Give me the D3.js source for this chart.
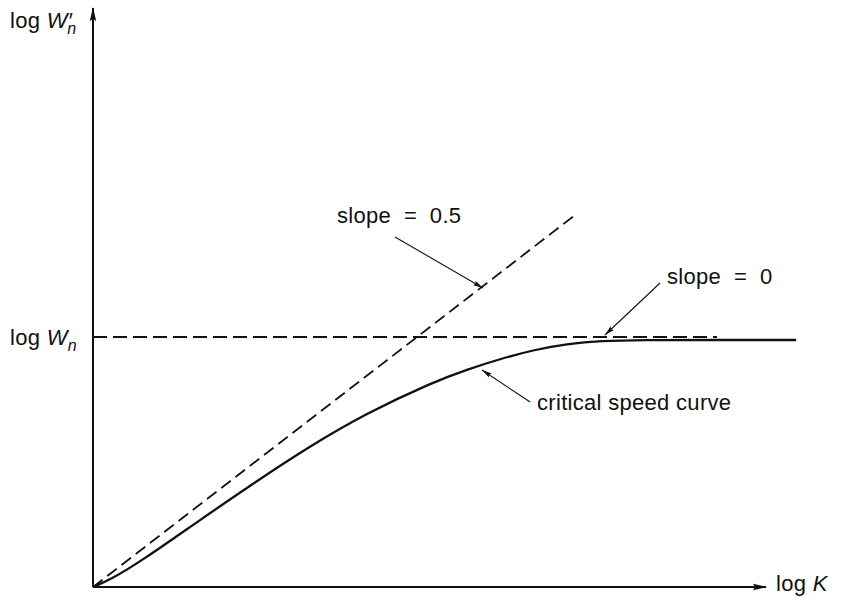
<!DOCTYPE html>
<html>
<head>
<meta charset="utf-8">
<script src="https://cdn.jsdelivr.net/npm/d3@7"></script>
<style>
  html, body { margin: 0; padding: 0; background: #fff; }
  svg { display: block; }
  text { font-family: "Liberation Sans", Arial, Helvetica, sans-serif; fill: #111; white-space: pre; letter-spacing: 0.3px; }
</style>
</head>
<body>
<svg id="chart" width="859" height="597"></svg>
<script>
// ---- data (log K, log W'n in units where log Wn = 1) ----
const curveLogK  = [0, 0.105, 0.309, 0.660, 1.000, 1.340, 1.691, 2.099, 2.309, 2.512, 2.716, 2.926, 3.130, 3.400, 3.800, 4.340];
const curveLogW  = [0, 0.028, 0.108, 0.268, 0.419, 0.564, 0.696, 0.820, 0.870, 0.912, 0.948, 0.972, 0.985, 0.988, 0.988, 0.988];
const slopeHalfK = [0, 2.963];
const slopeHalf  = 0.5;
const logWn      = 1.0;
const flatK      = [0, 3.852];
const axisMax    = [4.154, 2.316];   // [log K end, log W' end]
const annotationTexts = ["slope  =  0.5", "slope  =  0", "critical speed curve"];
const annotationFrom  = [[1.864, 1.400], [3.500, 1.216], [2.698, 0.740]];
const annotationTo    = [[2.407, 1.196], [3.160, 1.008], [2.401, 0.868]];
const annotationText  = [[1.506, 1.456], [3.543, 1.212], [2.741, 0.708]];

// ---- layout ----
const svg = d3.select("#chart");
const x = d3.scaleLinear().domain([0, axisMax[0]]).range([93, 766]);
const y = d3.scaleLinear().domain([0, axisMax[1]]).range([587, 8]);

const defs = svg.append("defs");
defs.append("marker").attr("id", "bigArrow")
  .attr("viewBox", "0 0 14 8").attr("refX", 13).attr("refY", 4)
  .attr("markerWidth", 14).attr("markerHeight", 8).attr("markerUnits", "userSpaceOnUse")
  .attr("orient", "auto")
  .append("path").attr("d", "M0,0.8 L14,4 L0,7.2 L2,4 Z").attr("fill", "#111");
defs.append("marker").attr("id", "smallArrow")
  .attr("viewBox", "0 0 10 6").attr("refX", 10).attr("refY", 3)
  .attr("markerWidth", 10).attr("markerHeight", 6).attr("markerUnits", "userSpaceOnUse")
  .attr("orient", "auto")
  .append("path").attr("d", "M0,0.5 L10,3 L0,5.5 L1.5,3 Z").attr("fill", "#111");

// axes
svg.append("line")
  .attr("x1", x(0)).attr("y1", y(0)).attr("x2", x(0)).attr("y2", y(axisMax[1]))
  .attr("stroke", "#111").attr("stroke-width", 2).attr("marker-end", "url(#bigArrow)");
svg.append("line")
  .attr("x1", x(0)).attr("y1", y(0)).attr("x2", x(axisMax[0])).attr("y2", y(0))
  .attr("stroke", "#111").attr("stroke-width", 2).attr("marker-end", "url(#bigArrow)");

// slope = 0.5 dashed asymptote
const line = d3.line().x(d => x(d[0])).y(d => y(d[1]));
svg.append("path")
  .datum(slopeHalfK.map(k => [k, slopeHalf * k]))
  .attr("d", line).attr("fill", "none").attr("stroke", "#111")
  .attr("stroke-width", 1.8).attr("stroke-dasharray", "12,6");

// slope = 0 dashed asymptote
svg.append("path")
  .datum(flatK.map(k => [k, logWn]))
  .attr("d", line).attr("fill", "none").attr("stroke", "#111")
  .attr("stroke-width", 1.8).attr("stroke-dasharray", "14,6");

// critical speed curve
const curve = d3.line().x(d => x(d[0])).y(d => y(d[1])).curve(d3.curveBasis);
svg.append("path")
  .datum(curveLogK.map((k, i) => [k, curveLogW[i]]))
  .attr("d", curve).attr("fill", "none").attr("stroke", "#111")
  .attr("stroke-width", 2.3).attr("stroke-linejoin", "round");

// annotations
annotationTexts.forEach((t, i) => {
  svg.append("line")
    .attr("x1", x(annotationFrom[i][0])).attr("y1", y(annotationFrom[i][1]))
    .attr("x2", x(annotationTo[i][0])).attr("y2", y(annotationTo[i][1]))
    .attr("stroke", "#111").attr("stroke-width", 1.1).attr("marker-end", "url(#smallArrow)");
  svg.append("text")
    .attr("x", x(annotationText[i][0])).attr("y", y(annotationText[i][1]))
    .attr("font-size", 22).text(t);
});

// axis labels
const yTop = svg.append("text").attr("x", x(0) - 83).attr("y", 28).attr("font-size", 22);
yTop.append("tspan").text("log ");
yTop.append("tspan").attr("font-style", "italic").text("W");
yTop.append("tspan").attr("font-style", "italic").text("\u2032");
yTop.append("tspan").attr("font-style", "italic").attr("font-size", 16).attr("dx", -5).attr("dy", 6).text("n");

const yMid = svg.append("text").attr("x", x(0) - 83).attr("y", y(logWn) + 8).attr("font-size", 22);
yMid.append("tspan").text("log ");
yMid.append("tspan").attr("font-style", "italic").text("W");
yMid.append("tspan").attr("font-style", "italic").attr("font-size", 16).attr("dy", 6).text("n");

const xLab = svg.append("text").attr("x", 776).attr("y", y(0) + 4).attr("font-size", 22);
xLab.append("tspan").text("log ");
xLab.append("tspan").attr("font-style", "italic").text("K");
</script>
</body>
</html>
